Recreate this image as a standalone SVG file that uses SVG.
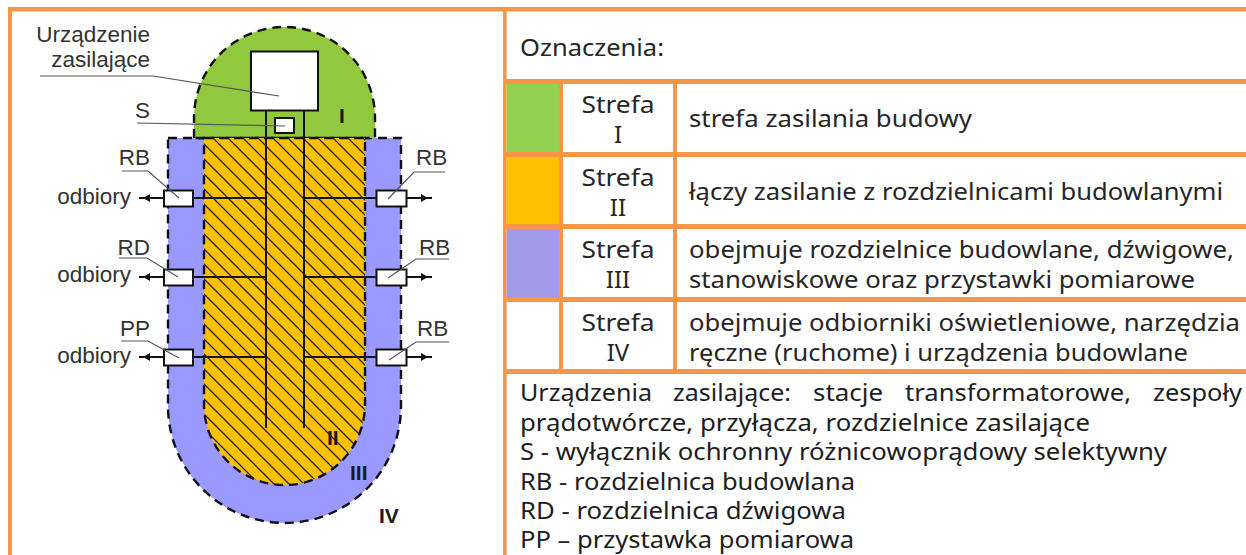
<svg xmlns="http://www.w3.org/2000/svg" width="1246" height="555" viewBox="0 0 1246 555">
<style>
.grid{fill:#f79646}
.t{font-family:"Noto Sans","Open Sans",sans-serif;font-size:24px;fill:#262626}
.n{font-family:"Noto Sans","Open Sans",sans-serif;font-size:23px;fill:#1e1e1e}
.m{text-anchor:middle}
.l{font-family:"Liberation Sans",Arial,sans-serif;font-size:22.500px;fill:#333}
.z{font-family:"Liberation Sans",Arial,sans-serif;font-size:21px;font-weight:bold;fill:#1a1a1a}
.zone{stroke:#111;stroke-width:2.4;stroke-dasharray:9 6}
.w{stroke:#111;stroke-width:2;fill:none}
.box{fill:#fff;stroke:#111;stroke-width:2}
.lead{stroke:#555;stroke-width:1.2;fill:none}
</style>
<defs>
<pattern id="hatch" patternUnits="userSpaceOnUse" width="15" height="15">
<rect width="15" height="15" fill="#ffc000"/>
<path d="M-3,-3 L18,18 M-3,12 L3,18 M12,-3 L18,3" stroke="#222" stroke-width="1.3"/>
</pattern>
<marker id="tip" markerWidth="10" markerHeight="10" refX="4" refY="4" orient="auto" markerUnits="userSpaceOnUse"><path d="M0,0 L7,4 L0,8 Z" fill="#111"/></marker>
</defs>
<rect width="1246" height="555" fill="#fff"/>
<g id="table">
<rect class="grid" x="8" y="7" width="1238" height="4.500"/>
<rect class="grid" x="8" y="7" width="4" height="548"/>
<rect class="grid" x="503" y="7" width="3.600" height="548"/>
<rect class="grid" x="503" y="79" width="743" height="5"/>
<rect class="grid" x="503" y="152" width="743" height="5"/>
<rect class="grid" x="503" y="224" width="743" height="5"/>
<rect class="grid" x="503" y="297" width="743" height="5"/>
<rect class="grid" x="503" y="369" width="743" height="5"/>
<rect class="grid" x="559" y="79" width="4" height="295"/>
<rect class="grid" x="673" y="79" width="4" height="295"/>
<rect x="506.500" y="84" width="52.500" height="68" fill="#92d050"/>
<rect x="506.500" y="157" width="52.500" height="67" fill="#ffc000"/>
<rect x="506.500" y="229" width="52.500" height="68" fill="#a29bea"/>
</g>
<g id="legend">
<text class="t" x="520" y="56" textLength="144" lengthAdjust="spacingAndGlyphs">Oznaczenia:</text>
<text class="t m" x="618" y="113" textLength="73" lengthAdjust="spacingAndGlyphs">Strefa</text><text class="t m" x="618" y="143">I</text>
<text class="t m" x="618" y="186" textLength="73" lengthAdjust="spacingAndGlyphs">Strefa</text><text class="t m" x="618" y="216">II</text>
<text class="t m" x="618" y="258" textLength="73" lengthAdjust="spacingAndGlyphs">Strefa</text><text class="t m" x="618" y="288">III</text>
<text class="t m" x="618" y="331" textLength="73" lengthAdjust="spacingAndGlyphs">Strefa</text><text class="t m" x="618" y="361">IV</text>
<text class="t" x="689" y="127" textLength="283" lengthAdjust="spacingAndGlyphs">strefa zasilania budowy</text>
<text class="t" x="689" y="200" textLength="534" lengthAdjust="spacingAndGlyphs">łączy zasilanie z rozdzielnicami budowlanymi</text>
<text class="t" x="689" y="258" textLength="545" lengthAdjust="spacingAndGlyphs">obejmuje rozdzielnice budowlane, dźwigowe,</text>
<text class="t" x="689" y="288" textLength="506" lengthAdjust="spacingAndGlyphs">stanowiskowe oraz przystawki pomiarowe</text>
<text class="t" x="689" y="331" textLength="551" lengthAdjust="spacingAndGlyphs">obejmuje odbiorniki oświetleniowe, narzędzia</text>
<text class="t" x="689" y="361" textLength="499" lengthAdjust="spacingAndGlyphs">ręczne (ruchome) i urządzenia budowlane</text>
</g>
<g id="notes">
<text class="n" x="520" y="401" textLength="132" lengthAdjust="spacingAndGlyphs">Urządzenia</text>
<text class="n" x="673" y="401" textLength="118" lengthAdjust="spacingAndGlyphs">zasilające:</text>
<text class="n" x="813" y="401" textLength="70" lengthAdjust="spacingAndGlyphs">stacje</text>
<text class="n" x="905" y="401" textLength="226" lengthAdjust="spacingAndGlyphs">transformatorowe,</text>
<text class="n" x="1153" y="401" textLength="89" lengthAdjust="spacingAndGlyphs">zespoły</text>
<text class="n" x="520" y="431" textLength="570" lengthAdjust="spacingAndGlyphs">prądotwórcze, przyłącza, rozdzielnice zasilające</text>
<text class="n" x="520" y="460" textLength="647" lengthAdjust="spacingAndGlyphs">S - wyłącznik ochronny różnicowoprądowy selektywny</text>
<text class="n" x="520" y="490" textLength="335" lengthAdjust="spacingAndGlyphs">RB - rozdzielnica budowlana</text>
<text class="n" x="520" y="519" textLength="326" lengthAdjust="spacingAndGlyphs">RD - rozdzielnica dźwigowa</text>
<text class="n" x="520" y="548" textLength="334" lengthAdjust="spacingAndGlyphs">PP – przystawka pomiarowa</text>
</g>
<g id="zone-3"><path class="zone" fill="#9999ff" d="M168,138 H401 V406 A116.500,117 0 0 1 168,406 Z"/></g>
<g id="zone-1"><path class="zone" fill="#92c83e" d="M194,138 V118 A90.500,91 0 0 1 375,118 V138 Z"/></g>
<g id="zone-2"><path class="zone" fill="url(#hatch)" d="M204,138 H365 V404 A80.500,81 0 0 1 204,404 Z"/></g>
<g id="connectors">
<path class="w" d="M266,110 V428 M304,110 V428"/>
<path class="w" d="M193,198 H266 M304,198 H376 M193,277 H266 M304,277 H376 M193,357 H266 M304,357 H376"/>
<path class="w" marker-mid="url(#tip)" d="M164,198 L146,198 L139,198"/>
<path class="w" marker-mid="url(#tip)" d="M164,277 L146,277 L139,277"/>
<path class="w" marker-mid="url(#tip)" d="M164,357 L146,357 L139,357"/>
<path class="w" marker-mid="url(#tip)" d="M406,198 L425,198 L432,198"/>
<path class="w" marker-mid="url(#tip)" d="M406,277 L425,277 L432,277"/>
<path class="w" marker-mid="url(#tip)" d="M406,357 L425,357 L432,357"/>
</g>
<g id="supply"><rect class="box" x="251" y="51.500" width="67" height="59"/></g>
<g id="s"><rect class="box" x="275" y="118" width="19" height="15"/></g>
<g id="rb1"><rect class="box" x="164" y="190.500" width="29" height="16"/></g>
<g id="rd"><rect class="box" x="164" y="269.500" width="29" height="16"/></g>
<g id="pp"><rect class="box" x="164" y="349.500" width="29" height="16"/></g>
<g id="rb2"><rect class="box" x="376.500" y="190.500" width="30" height="16"/></g>
<g id="rb3"><rect class="box" x="376.500" y="269.500" width="30" height="16"/></g>
<g id="rb4"><rect class="box" x="376.500" y="349.500" width="30" height="16"/></g>
<g id="leaders">
<path class="lead" d="M40,76 H153 L279,96"/>
<path class="lead" d="M137,123 L285,126"/>
<path class="lead" d="M122,171 H148 L179,198"/>
<path class="lead" d="M119,258 H147 L178,277"/>
<path class="lead" d="M121,341 H148 L179,358"/>
<path class="lead" d="M445,172 H414 L388,199"/>
<path class="lead" d="M449,259 H416 L388,278"/>
<path class="lead" d="M449,342 H416 L389,360"/>
</g>
<g id="labels">
<text class="l" x="150" y="42" text-anchor="end">Urządzenie</text>
<text class="l" x="150" y="67" text-anchor="end">zasilające</text>
<text class="l" x="150" y="118" text-anchor="end">S</text>
<text class="l" x="150" y="165" text-anchor="end">RB</text>
<text class="l" x="150" y="255" text-anchor="end">RD</text>
<text class="l" x="150" y="336" text-anchor="end">PP</text>
<text class="l" x="131" y="204" text-anchor="end">odbiory</text>
<text class="l" x="131" y="282" text-anchor="end">odbiory</text>
<text class="l" x="131" y="363" text-anchor="end">odbiory</text>
<text class="l" x="416" y="165">RB</text>
<text class="l" x="419" y="255">RB</text>
<text class="l" x="417" y="336">RB</text>
<text class="z" x="339" y="123">I</text>
<text class="z" x="327" y="445">II</text>
<text class="z" x="350" y="480">III</text>
<text class="z" x="379" y="523">IV</text>
</g>
</svg>
